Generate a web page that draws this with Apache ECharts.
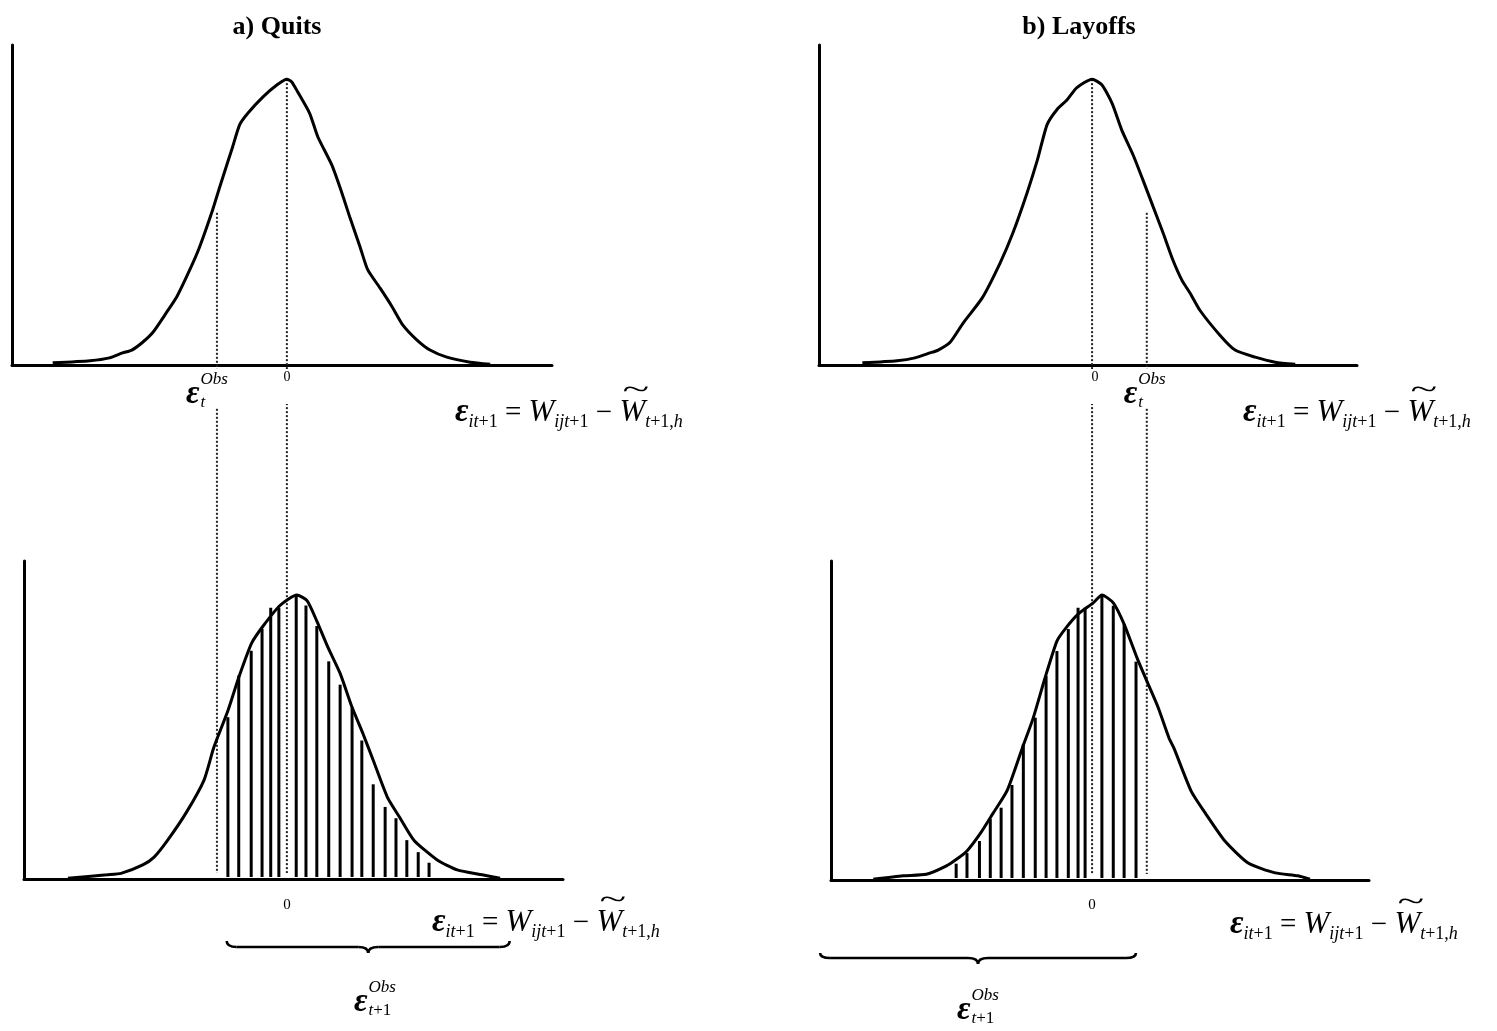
<!DOCTYPE html>
<html>
<head>
<meta charset="utf-8">
<script src="https://cdn.jsdelivr.net/npm/echarts/dist/echarts.min.js"></script>
<style>
  html, body { margin: 0; padding: 0; background: #fff; }
  #main { width: 1497px; height: 1031px; }
</style>
</head>
<body>
<div id="main"></div>
<script>
// x in epsilon units (0 = peak of the period-t density), y = density
var quitsTop = [[-4.32,0.003],[-3.63,0.006],[-3.27,0.010],[-3.03,0.017],[-2.86,0.021],[-2.66,0.032],[-2.47,0.046],[-2.21,0.075],[-2.03,0.096],[-1.79,0.134],[-1.61,0.166],[-1.37,0.218],[-1.24,0.250],[-1.11,0.281],[-1.00,0.307],[-0.87,0.338],[-0.72,0.354],[-0.44,0.377],[-0.18,0.394],[0,0.402],[0.09,0.398],[0.20,0.384],[0.42,0.354],[0.57,0.321],[0.83,0.281],[1.01,0.243],[1.16,0.208],[1.35,0.166],[1.49,0.134],[1.72,0.108],[1.94,0.082],[2.14,0.056],[2.40,0.035],[2.64,0.021],[2.95,0.011],[3.38,0.004],[3.75,0.001]];
var quitsLow = [[-4.04,0.001],[-3.32,0.006],[-3.06,0.008],[-2.66,0.020],[-2.45,0.031],[-2.20,0.055],[-1.85,0.095],[-1.53,0.140],[-1.35,0.186],[-1.09,0.238],[-0.89,0.285],[-0.65,0.334],[-0.44,0.358],[-0.13,0.387],[0.18,0.402],[0.37,0.394],[0.55,0.365],[0.76,0.327],[0.98,0.291],[1.20,0.243],[1.40,0.206],[1.59,0.168],[1.85,0.116],[2.08,0.087],[2.34,0.055],[2.77,0.027],[3.14,0.013],[3.60,0.006],[3.93,0.001]];
var quitsBarX = [-1.09,-0.89,-0.66,-0.46,-0.30,-0.15,0.17,0.35,0.55,0.77,0.98,1.20,1.38,1.59,1.81,2.01,2.21,2.42,2.62];
var quitsBarH = [0.229,0.288,0.323,0.354,0.384,0.384,0.401,0.387,0.358,0.308,0.275,0.243,0.196,0.134,0.102,0.086,0.055,0.038,0.023];

var layoffsTop = [[-4.24,0.003],[-3.60,0.006],[-3.27,0.010],[-2.99,0.017],[-2.84,0.021],[-2.62,0.032],[-2.38,0.059],[-2.03,0.094],[-1.70,0.143],[-1.46,0.186],[-1.20,0.242],[-1.01,0.288],[-0.83,0.338],[-0.65,0.359],[-0.46,0.373],[-0.28,0.390],[0,0.402],[0.18,0.394],[0.37,0.368],[0.55,0.330],[0.76,0.295],[0.94,0.260],[1.13,0.222],[1.31,0.186],[1.49,0.148],[1.66,0.119],[1.81,0.101],[1.99,0.077],[2.36,0.042],[2.64,0.021],[3.01,0.011],[3.38,0.004],[3.75,0.001]];
var layoffsLow = [[-4.04,0.001],[-3.49,0.006],[-3.06,0.008],[-2.69,0.020],[-2.49,0.030],[-2.31,0.041],[-2.07,0.065],[-1.83,0.094],[-1.57,0.126],[-1.29,0.186],[-1.09,0.228],[-0.87,0.285],[-0.65,0.337],[-0.50,0.354],[-0.26,0.375],[0.02,0.391],[0.18,0.402],[0.39,0.391],[0.59,0.361],[0.83,0.313],[1.03,0.277],[1.22,0.243],[1.42,0.200],[1.51,0.186],[1.83,0.125],[2.10,0.093],[2.45,0.055],[2.88,0.024],[3.38,0.010],[3.80,0.006],[4.02,0.001]];
var layoffsBarX = [-2.51,-2.31,-2.08,-1.88,-1.68,-1.48,-1.27,-1.05,-0.85,-0.65,-0.44,-0.26,-0.13,0.18,0.39,0.59,0.81];
var layoffsBarH = [0.023,0.038,0.055,0.086,0.102,0.134,0.192,0.229,0.288,0.323,0.354,0.384,0.384,0.401,0.387,0.361,0.308];

// observed shock at t, and where the dotted guides leave the upper curve
var quitsObs = -1.29, layoffsObs = 1.01;
var quitsGuides = [[quitsObs, 0.214], [0, 0.402]];
var layoffsGuides = [[layoffsObs, 0.214], [0, 0.402]];
// span of the braces marked eps_{t+1}^Obs
var quitsBrace = [-1.11, 4.11];
var layoffsBrace = [-5.02, 0.81];

var SERIF = '"Liberation Serif", "Times New Roman", serif';
var INK = '#000';
var yMax = 0.45;

var grids = [
  { left: 12, top: 45, width: 540, height: 320 },   // quits, t
  { left: 24, top: 561, width: 539, height: 318 },  // quits, t+1
  { left: 819, top: 45, width: 538, height: 320 },  // layoffs, t
  { left: 831, top: 561, width: 538, height: 319 }, // layoffs, t+1
  { left: 12, top: 45, width: 540, height: 834 },   // guides, left column
  { left: 819, top: 45, width: 538, height: 835 }   // guides, right column
];
var xRange = [[-5.07, 4.89], [-4.85, 5.09], [-5.04, 4.89], [-4.82, 5.11], [-5.07, 4.89], [-5.04, 4.89]];
function ovMin(g) { return -yMax * (g.height - 320) / 320; }

function barsOf(xs, hs) { return xs.map(function (x, i) { return [x, hs[i]]; }); }

var chart = echarts.init(document.getElementById('main'));

function stick(params, api) {
  var p0 = api.coord([api.value(0), 0]);
  var p1 = api.coord([api.value(0), api.value(1)]);
  return { type: 'line', shape: { x1: p0[0], y1: p0[1] - 2, x2: p1[0], y2: p1[1] },
    style: { stroke: INK, lineWidth: 3 } };
}
function guide(params, api) {
  var p0 = api.coord([api.value(0), api.value(1)]);
  var cs = params.coordSys;
  return { type: 'line', shape: { x1: p0[0], y1: p0[1], x2: p0[0], y2: cs.y + cs.height - 6 },
    style: { stroke: '#222', lineWidth: 2, lineDash: [2, 2] } };
}

function curve(data, i) {
  return { type: 'line', xAxisIndex: i, yAxisIndex: i, data: data, showSymbol: false, smooth: 0.2,
    lineStyle: { color: INK, width: 3 }, z: 3 };
}

chart.setOption({
  animation: false,
  grid: grids,
  xAxis: xRange.map(function (r, i) {
    return { type: 'value', gridIndex: i, min: r[0], max: r[1],
      axisLine: { show: i < 4, onZero: false, lineStyle: { color: INK, width: 3 } },
      axisTick: { show: false }, axisLabel: { show: false }, splitLine: { show: false } };
  }),
  yAxis: grids.map(function (g, i) {
    return { type: 'value', gridIndex: i, min: i < 4 ? 0 : ovMin(g), max: yMax,
      axisLine: { show: i < 4, onZero: false, lineStyle: { color: INK, width: 3 } },
      axisTick: { show: false }, axisLabel: { show: false }, splitLine: { show: false } };
  }),
  series: [
    curve(quitsTop, 0),
    curve(quitsLow, 1),
    curve(layoffsTop, 2),
    curve(layoffsLow, 3),
    { type: 'custom', xAxisIndex: 1, yAxisIndex: 1, data: barsOf(quitsBarX, quitsBarH), renderItem: stick },
    { type: 'custom', xAxisIndex: 3, yAxisIndex: 3, data: barsOf(layoffsBarX, layoffsBarH), renderItem: stick },
    { type: 'custom', xAxisIndex: 4, yAxisIndex: 4, data: quitsGuides, renderItem: guide },
    { type: 'custom', xAxisIndex: 5, yAxisIndex: 5, data: layoffsGuides, renderItem: guide }
  ]
});

// ---- text and braces ----
var mctx = document.createElement('canvas').getContext('2d');
function fnt(size, it, bold) { return (it ? 'italic ' : '') + (bold ? 'bold ' : '') + size + 'px ' + SERIF; }
function wid(t, size, it, bold) { mctx.font = fnt(size, it, bold); return mctx.measureText(t).width; }
function txt(t, x, base, size, it, extra, bold) {
  var el = { type: 'text', x: x, y: base - 0.3 * size, z: 60, silent: true,
    style: { text: t, font: fnt(size, it, bold), fill: INK, align: 'left', verticalAlign: 'middle' } };
  if (extra) { for (var k in extra) el[k] = extra[k]; }
  return el;
}

function formula(x, base) {
  var els = [], cx = x, sb = base + 6, S = 31, s = 18, o = 29;
  function put(t, size, it, b, bold) { els.push(txt(t, cx, b, size, it, null, bold)); cx += wid(t, size, it, bold); }
  put('ε', 33, true, base, true);
  put('it', s, true, sb); put('+1', s, false, sb);
  put(' = ', o, false, base);
  put('W', S, true, base);
  put('ijt', s, true, sb); put('+1', s, false, sb);
  put(' − ', o, false, base);
  var wx = cx;
  put('W', S, true, base);
  els.push(txt('~', wx + 3, base - 22, 29, false, { scaleX: 1.7 }));
  put('t', s, true, sb); put('+1,', s, false, sb); put('h', s, true, sb);
  return els;
}

function epsObs(x, base, plusOne) {
  var els = [txt('ε', x, base, 33, true, null, true)];
  var sx = x + wid('ε', 33, true, true) + 1;
  els.push(txt('Obs', sx, base - 19, 17, true));
  els.push(txt('t', sx, base + 4, 17, true));
  if (plusOne) els.push(txt('+1', sx + wid('t', 17, true), base + 4, 17, false));
  return els;
}

function whiteBox(x, y, w, h) {
  return { type: 'rect', z: 55, silent: true, shape: { x: x, y: y, width: w, height: h }, style: { fill: '#fff' } };
}

function brace(x0, x1, yEnd, yLine, yTip) {
  var xc = (x0 + x1) / 2, r = 10;
  var st = { stroke: INK, lineWidth: 2.6, fill: 'none' };
  return [
    { type: 'bezierCurve', z: 60, shape: { x1: x0, y1: yEnd, x2: x0 + r, y2: yLine, cpx1: x0, cpy1: yLine }, style: st },
    { type: 'line', z: 60, shape: { x1: x0 + r, y1: yLine, x2: xc - r, y2: yLine }, style: st },
    { type: 'bezierCurve', z: 60, shape: { x1: xc - r, y1: yLine, x2: xc, y2: yTip, cpx1: xc, cpy1: yLine }, style: st },
    { type: 'bezierCurve', z: 60, shape: { x1: xc, y1: yTip, x2: xc + r, y2: yLine, cpx1: xc, cpy1: yLine }, style: st },
    { type: 'line', z: 60, shape: { x1: xc + r, y1: yLine, x2: x1 - r, y2: yLine }, style: st },
    { type: 'bezierCurve', z: 60, shape: { x1: x1 - r, y1: yLine, x2: x1, y2: yEnd, cpx1: x1, cpy1: yLine }, style: st }
  ];
}

function px(grid, x) { return chart.convertToPixel({ gridIndex: grid }, [x, 0])[0]; }

var qZero = px(4, 0), qObs = px(4, quitsObs);
var lZero = px(5, 0), lObs = px(5, layoffsObs);

var g = [];
g.push({ type: 'text', x: 277, y: 27, z: 60, style: { text: 'a) Quits', font: fnt(26, false, true), fill: INK, align: 'center', verticalAlign: 'middle' } });
g.push({ type: 'text', x: 1079, y: 27, z: 60, style: { text: 'b) Layoffs', font: fnt(26, false, true), fill: INK, align: 'center', verticalAlign: 'middle' } });

// top row labels (mask the guides behind them)
g.push(whiteBox(qObs - 34, 369, 56, 38), whiteBox(qZero - 7, 369, 14, 35));
g.push(whiteBox(lObs - 26, 369, 56, 38), whiteBox(lZero - 7, 369, 14, 35));
g.push({ type: 'text', x: qZero, y: 377, z: 60, style: { text: '0', font: fnt(14), fill: INK, align: 'center', verticalAlign: 'middle' } });
g.push({ type: 'text', x: lZero + 3, y: 377, z: 60, style: { text: '0', font: fnt(14), fill: INK, align: 'center', verticalAlign: 'middle' } });
g = g.concat(epsObs(qObs - 31, 404, false), epsObs(lObs - 23, 404, false));
g = g.concat(formula(455, 422), formula(1243, 422));

// bottom row labels
g.push({ type: 'text', x: qZero, y: 905, z: 60, style: { text: '0', font: fnt(15), fill: INK, align: 'center', verticalAlign: 'middle' } });
g.push({ type: 'text', x: lZero, y: 905, z: 60, style: { text: '0', font: fnt(15), fill: INK, align: 'center', verticalAlign: 'middle' } });
g = g.concat(formula(432, 932), formula(1230, 934));
g = g.concat(brace(px(4, quitsBrace[0]), px(4, quitsBrace[1]), 941, 947, 953));
g = g.concat(brace(px(5, layoffsBrace[0]), px(5, layoffsBrace[1]), 953, 958, 964));
g = g.concat(epsObs(354, 1012, true), epsObs(957, 1020, true));

chart.setOption({ graphic: g });
</script>
</body>
</html>
